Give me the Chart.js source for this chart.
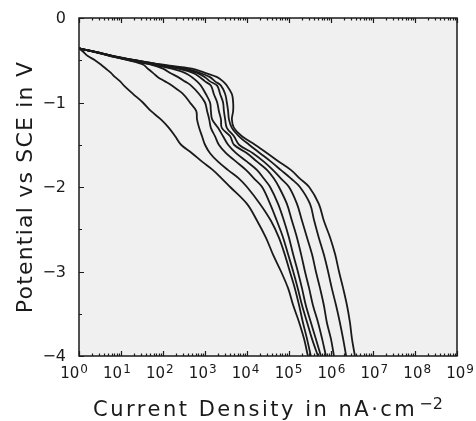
<!DOCTYPE html>
<html>
<head>
<meta charset="utf-8">
<script src="https://cdn.jsdelivr.net/npm/chart.js"></script>
<style>
  html, body { margin: 0; padding: 0; background: #fff; }
  #wrap { width: 476px; height: 421px; }
</style>
</head>
<body>
<div id="wrap"><canvas id="polChart" width="476" height="421"></canvas></div>
<script>
// Potential grid (V vs SCE), shared by every curve
const potential = [-0.36, -0.4, -0.45, -0.5, -0.55, -0.6, -0.65, -0.7, -0.75, -0.8,
  -0.9, -1.0, -1.1, -1.2, -1.3, -1.4, -1.5, -1.6, -1.7, -1.8,
  -1.9, -2.0, -2.2, -2.4, -2.6, -2.8, -3.0, -3.2, -3.4, -3.6, -3.8, -4.0];

// log10 of current density (nA/cm^2) at each potential, one array per curve
const curve1 = [0, 0.10, 0.21, 0.38, 0.52, 0.64, 0.76, 0.86, 0.98, 1.07, 1.29, 1.52, 1.71, 1.95, 2.14, 2.29,
  2.43, 2.69, 2.93, 3.19, 3.40, 3.60, 4.00, 4.24, 4.45, 4.62, 4.81, 4.98, 5.10, 5.24, 5.36, 5.45];
const curve2 = [0, 0.36, 0.74, 1.17, 1.52, 1.64, 1.76, 1.88, 2.05, 2.21, 2.48, 2.64, 2.79, 2.81, 2.86, 2.93,
  3.00, 3.12, 3.31, 3.55, 3.81, 4.00, 4.31, 4.57, 4.76, 4.90, 5.02, 5.14, 5.24, 5.33, 5.43, 5.52];
const curve3 = [0, 0.36, 0.76, 1.21, 1.69, 2.00, 2.17, 2.36, 2.52, 2.67, 2.86, 3.00, 3.05, 3.10, 3.14, 3.24,
  3.33, 3.50, 3.74, 3.98, 4.17, 4.36, 4.55, 4.71, 4.86, 4.98, 5.10, 5.21, 5.31, 5.43, 5.55, 5.69];
const curve4 = [0, 0.38, 0.79, 1.26, 1.74, 2.21, 2.52, 2.69, 2.81, 2.90, 3.02, 3.12, 3.14, 3.17, 3.31, 3.43,
  3.55, 3.74, 4.00, 4.24, 4.40, 4.55, 4.74, 4.88, 5.00, 5.10, 5.21, 5.31, 5.40, 5.52, 5.64, 5.76];
const curve5 = [0, 0.38, 0.79, 1.29, 1.81, 2.36, 2.71, 2.88, 3.00, 3.14, 3.21, 3.29, 3.33, 3.38, 3.40, 3.60,
  3.69, 4.00, 4.24, 4.48, 4.64, 4.76, 4.95, 5.07, 5.19, 5.29, 5.38, 5.48, 5.57, 5.69, 5.79, 5.88];
const curve6 = [0, 0.38, 0.81, 1.31, 1.86, 2.45, 2.81, 3.00, 3.12, 3.29, 3.36, 3.43, 3.45, 3.48, 3.52, 3.69,
  3.81, 4.14, 4.40, 4.62, 4.81, 5.00, 5.19, 5.31, 5.43, 5.55, 5.64, 5.74, 5.83, 5.90, 6.00, 6.07];
const curve7 = [0, 0.40, 0.81, 1.33, 1.90, 2.55, 2.88, 3.12, 3.24, 3.38, 3.48, 3.52, 3.55, 3.57, 3.64, 3.81,
  4.05, 4.31, 4.57, 4.81, 5.05, 5.26, 5.50, 5.60, 5.71, 5.83, 5.93, 6.02, 6.12, 6.21, 6.29, 6.36];
const curve8 = [0, 0.40, 0.83, 1.36, 1.95, 2.69, 3.00, 3.29, 3.43, 3.52, 3.64, 3.67, 3.67, 3.64, 3.69, 3.88,
  4.19, 4.48, 4.76, 5.05, 5.26, 5.48, 5.71, 5.83, 5.98, 6.10, 6.19, 6.29, 6.38, 6.45, 6.50, 6.57];

// axis ticks
const xDecades = [0, 1, 2, 3, 4, 5, 6, 7, 8, 9];
const yTicks = [0, -1, -2, -3, -4];
const yMinorTicks = [-0.5, -1.5, -2.5, -3.5];

const curves = [curve1, curve2, curve3, curve4, curve5, curve6, curve7, curve8];

function toPoints(logs) {
  return potential.map((v, i) => ({ x: Math.pow(10, logs[i]), y: v }));
}

const FONT = '"DejaVu Sans", sans-serif';
const INK = '#1a1a1a';

const axesPlugin = {
  id: 'handAxes',
  beforeDatasetsDraw(chart) {
    const { ctx, chartArea: a } = chart;
    ctx.save();
    ctx.fillStyle = '#f0f0f0';
    ctx.fillRect(a.left, a.top, a.right - a.left, a.bottom - a.top);
    ctx.restore();
  },
  afterDraw(chart) {
    const { ctx, chartArea: a, scales } = chart;
    const xs = scales.x, ys = scales.y;
    ctx.save();
    ctx.strokeStyle = INK;
    ctx.fillStyle = INK;

    // frame
    ctx.lineWidth = 1.5;
    ctx.strokeRect(a.left, a.top, a.right - a.left, a.bottom - a.top);

    // x ticks, bottom and top, pointing inward
    ctx.lineWidth = 1.2;
    ctx.beginPath();
    xDecades.forEach(d => {
      const px = Math.round(xs.getPixelForValue(Math.pow(10, d))) + 0.5;
      ctx.moveTo(px, a.bottom); ctx.lineTo(px, a.bottom - 5);
      ctx.moveTo(px, a.top); ctx.lineTo(px, a.top + 5);
      if (d < 9) {
        for (let m = 2; m <= 9; m++) {
          const mx = Math.round(xs.getPixelForValue(m * Math.pow(10, d))) + 0.5;
          ctx.moveTo(mx, a.bottom); ctx.lineTo(mx, a.bottom - 2.5);
          ctx.moveTo(mx, a.top); ctx.lineTo(mx, a.top + 2.5);
        }
      }
    });
    // y ticks on the left
    yTicks.forEach(v => {
      const py = Math.round(ys.getPixelForValue(v)) + 0.5;
      ctx.moveTo(a.left, py); ctx.lineTo(a.left + 5, py);
    });
    yMinorTicks.forEach(v => {
      const py = Math.round(ys.getPixelForValue(v)) + 0.5;
      ctx.moveTo(a.left, py); ctx.lineTo(a.left + 3, py);
    });
    ctx.stroke();

    // x tick labels: 10 with superscript exponent
    ctx.textBaseline = 'alphabetic';
    ctx.textAlign = 'left';
    xDecades.forEach((d, i) => {
      const px = xs.getPixelForValue(Math.pow(10, d)) - 5 + i * 0.9;
      ctx.font = '15px ' + FONT;
      const w1 = ctx.measureText('10').width;
      ctx.font = '12px ' + FONT;
      const w2 = ctx.measureText(String(d)).width;
      const left = px - (w1 + w2 + 1) / 2;
      ctx.font = '15px ' + FONT;
      ctx.fillText('10', left, a.bottom + 22);
      ctx.font = '12px ' + FONT;
      ctx.fillText(String(d), left + w1 + 1, a.bottom + 17);
    });

    // y tick labels
    ctx.font = '16px ' + FONT;
    ctx.textAlign = 'right';
    ctx.textBaseline = 'middle';
    yTicks.forEach(v => {
      const label = v === 0 ? '0' : '\u2212' + Math.abs(v);
      ctx.fillText(label, a.left - 13, ys.getPixelForValue(v) + 1);
    });

    // x axis title with superscript
    ctx.textAlign = 'left';
    ctx.textBaseline = 'alphabetic';
    const mainTitle = 'Current Density in nA\u00b7cm';
    const supTitle = '\u22122';
    ctx.font = '21px ' + FONT;
    ctx.letterSpacing = '2.5px';
    const tw = ctx.measureText(mainTitle).width;
    ctx.font = '16px ' + FONT;
    ctx.letterSpacing = '0px';
    const sw = ctx.measureText(supTitle).width;
    const tx = (a.left + a.right) / 2 - (tw + sw + 2) / 2;
    ctx.font = '21px ' + FONT;
    ctx.letterSpacing = '2.5px';
    ctx.fillText(mainTitle, tx, 416);
    ctx.font = '16px ' + FONT;
    ctx.letterSpacing = '0px';
    ctx.fillText(supTitle, tx + tw + 2, 409);

    // y axis title
    ctx.save();
    ctx.translate(32, (a.top + a.bottom) / 2);
    ctx.rotate(-Math.PI / 2);
    ctx.font = '22px ' + FONT;
    ctx.letterSpacing = '1.2px';
    ctx.textAlign = 'center';
    ctx.fillText('Potential vs SCE in V', 0, 0);
    ctx.restore();

    ctx.restore();
  }
};

new Chart(document.getElementById('polChart').getContext('2d'), {
  type: 'scatter',
  data: {
    datasets: curves.map((c, i) => ({
      label: 'curve ' + (i + 1),
      data: toPoints(c),
      showLine: true,
      borderColor: INK,
      borderWidth: 1.8,
      pointRadius: 0,
      tension: 0.35,
      fill: false
    }))
  },
  options: {
    responsive: false,
    animation: false,
    layout: { padding: { left: 79, right: 19, top: 18, bottom: 65 } },
    plugins: { legend: { display: false }, tooltip: { enabled: false } },
    scales: {
      x: { type: 'logarithmic', min: 1, max: 1e9, display: false },
      y: { type: 'linear', min: -4, max: 0, display: false }
    }
  },
  plugins: [axesPlugin]
});
</script>
</body>
</html>
